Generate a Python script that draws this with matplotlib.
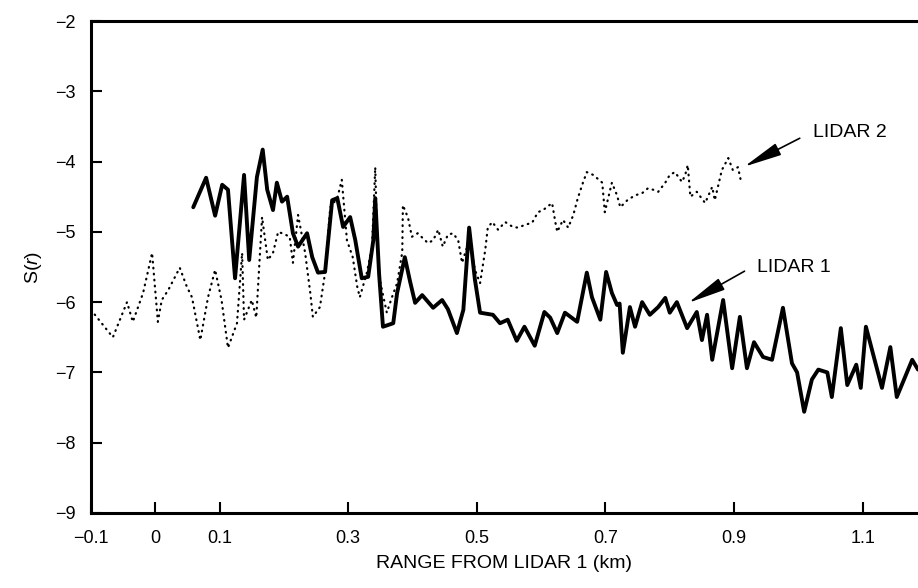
import matplotlib
matplotlib.use("Agg")
import matplotlib.pyplot as plt

# LIDAR 1 (solid curve), range in km and S(r)
lidar1_x = [0.059, 0.079, 0.093, 0.104, 0.113, 0.124, 0.138, 0.146, 0.158, 0.167,
            0.174, 0.183, 0.189, 0.197, 0.205, 0.214, 0.222, 0.236, 0.244, 0.253,
            0.264, 0.275, 0.283, 0.292, 0.303, 0.311, 0.321, 0.331, 0.339, 0.342,
            0.348, 0.354, 0.370, 0.376, 0.388, 0.396, 0.404, 0.415, 0.432, 0.446,
            0.455, 0.469, 0.479, 0.488, 0.497, 0.505, 0.525, 0.536, 0.548, 0.562,
            0.574, 0.590, 0.605, 0.614, 0.625, 0.637, 0.656, 0.671, 0.679, 0.692,
            0.701, 0.710, 0.718, 0.722, 0.727, 0.738, 0.746, 0.757, 0.769, 0.782,
            0.793, 0.800, 0.811, 0.827, 0.842, 0.850, 0.858, 0.866, 0.883, 0.897,
            0.909, 0.920, 0.931, 0.945, 0.959, 0.976, 0.990, 0.998, 1.009, 1.021,
            1.031, 1.045, 1.052, 1.066, 1.076, 1.090, 1.097, 1.105, 1.130, 1.143,
            1.153, 1.177, 1.186]
lidar1_s = [-4.65, -4.23, -4.77, -4.33, -4.40, -5.66, -4.19, -5.40, -4.22, -3.83,
            -4.40, -4.69, -4.30, -4.57, -4.50, -5.02, -5.21, -5.02, -5.36, -5.58,
            -5.57, -4.55, -4.52, -4.93, -4.79, -5.12, -5.66, -5.64, -5.12, -4.52,
            -5.60, -6.35, -6.30, -5.87, -5.36, -5.70, -6.01, -5.90, -6.08, -5.97,
            -6.10, -6.44, -6.11, -4.94, -5.68, -6.15, -6.18, -6.30, -6.25, -6.55,
            -6.35, -6.62, -6.14, -6.22, -6.44, -6.15, -6.28, -5.58, -5.93, -6.25,
            -5.57, -5.87, -6.04, -6.02, -6.72, -6.07, -6.35, -6.00, -6.18, -6.07,
            -5.94, -6.15, -6.00, -6.37, -6.14, -6.54, -6.18, -6.82, -5.97, -6.94,
            -6.21, -6.94, -6.57, -6.78, -6.82, -6.08, -6.87, -7.00, -7.56, -7.10,
            -6.96, -7.00, -7.35, -6.37, -7.18, -6.89, -7.22, -6.35, -7.22, -6.64,
            -7.35, -6.82, -6.96]

# LIDAR 2 (dotted curve)
lidar2_x = [-0.100, -0.066, -0.044, -0.035, -0.019, -0.005, 0.004, 0.010, 0.020, 0.038,
            0.049, 0.057, 0.070, 0.082, 0.093, 0.103, 0.113, 0.127, 0.135, 0.138,
            0.150, 0.157, 0.166, 0.175, 0.183, 0.191, 0.200, 0.209, 0.214, 0.222,
            0.233, 0.241, 0.245, 0.256, 0.264, 0.272, 0.283, 0.290, 0.298, 0.307,
            0.314, 0.318, 0.329, 0.337, 0.342, 0.345, 0.349, 0.360, 0.368, 0.376,
            0.384, 0.385, 0.393, 0.399, 0.408, 0.424, 0.432, 0.440, 0.447, 0.455,
            0.463, 0.471, 0.477, 0.485, 0.489, 0.497, 0.505, 0.513, 0.517, 0.524,
            0.533, 0.544, 0.556, 0.564, 0.575, 0.586, 0.595, 0.603, 0.617, 0.622,
            0.625, 0.634, 0.642, 0.650, 0.657, 0.665, 0.671, 0.681, 0.695, 0.699,
            0.710, 0.718, 0.723, 0.734, 0.746, 0.757, 0.766, 0.774, 0.782, 0.793,
            0.800, 0.808, 0.819, 0.824, 0.828, 0.832, 0.842, 0.855, 0.866, 0.870,
            0.881, 0.891, 0.898, 0.906, 0.911]
lidar2_s = [-6.11, -6.50, -6.00, -6.28, -5.87, -5.30, -6.28, -5.97, -5.83, -5.51,
            -5.78, -5.93, -6.54, -5.93, -5.54, -5.97, -6.65, -6.30, -5.30, -6.25,
            -5.97, -6.22, -4.79, -5.40, -5.30, -5.00, -5.03, -5.07, -5.44, -4.76,
            -5.30, -5.87, -6.21, -6.07, -5.58, -4.65, -4.52, -4.26, -5.12, -5.36,
            -5.78, -5.93, -5.58, -5.21, -4.08, -5.12, -5.68, -6.15, -5.93, -5.73,
            -5.29, -4.62, -4.80, -5.07, -5.02, -5.16, -5.12, -4.97, -5.21, -5.04,
            -5.02, -5.12, -5.44, -5.21, -5.12, -5.54, -5.73, -5.26, -4.94, -4.86,
            -4.97, -4.86, -4.93, -4.94, -4.90, -4.87, -4.72, -4.69, -4.59, -4.86,
            -5.00, -4.83, -4.94, -4.76, -4.52, -4.30, -4.15, -4.19, -4.30, -4.72,
            -4.30, -4.48, -4.65, -4.55, -4.48, -4.45, -4.38, -4.40, -4.43, -4.30,
            -4.19, -4.15, -4.29, -4.19, -4.05, -4.50, -4.43, -4.59, -4.36, -4.55,
            -4.12, -3.95, -4.12, -4.08, -4.29]

xticks = [-0.1, 0, 0.1, 0.3, 0.5, 0.7, 0.9, 1.1]
xtick_labels = ["\u22120.1", "0", "0.1", "0.3", "0.5", "0.7", "0.9", "1.1"]
yticks = [-9, -8, -7, -6, -5, -4, -3, -2]

plt.rcParams['font.family'] = ['Liberation Sans', 'DejaVu Sans']
plt.rcParams['mathtext.fontset'] = 'custom'
plt.rcParams['mathtext.rm'] = 'Liberation Sans'
plt.rcParams['mathtext.it'] = 'Liberation Sans:italic'

fig = plt.figure(figsize=(9.18, 5.88), dpi=100)
ax = fig.add_axes([91 / 918, 1 - 513 / 588, 1 - 91 / 918, (513 - 21) / 588])

ax.plot(lidar2_x, lidar2_s, color='black', lw=1.6, linestyle=(0, (0.3, 2.4)),
        dash_capstyle='round')
ax.plot(lidar1_x, lidar1_s, color='black', lw=2.8, solid_joinstyle='round',
        solid_capstyle='round')

ax.set_xlim(-0.1, 1.186)
ax.set_ylim(-9, -2)
ax.set_xticks(xticks)
ax.set_xticklabels(xtick_labels)
ax.set_yticks(yticks)

for side in ['left', 'bottom', 'top']:
    ax.spines[side].set_linewidth(2.2)
ax.spines['right'].set_visible(False)

ax.tick_params(axis='both', direction='in', length=8, width=1.5, labelsize=13)
ax.tick_params(axis='y', pad=11)
ax.tick_params(axis='x', pad=12)

ax.set_xlabel("RANGE FROM LIDAR 1 (km)", fontsize=14, labelpad=6)
ax.set_ylabel("S($\\mathit{r}$)", fontsize=14, labelpad=8)

# labels with arrows
arrow_style = dict(arrowstyle='-|>,head_length=1.3,head_width=0.22',
                   color='black', lw=1.2, mutation_scale=18)
ax.text(1.023, -3.59, "LIDAR 2", fontsize=14, va='center', ha='left')
ax.annotate('', xy=(0.912, -4.09), xytext=(1.006, -3.65), arrowprops=arrow_style)
ax.text(0.936, -5.50, "LIDAR 1", fontsize=14, va='center', ha='left')
ax.annotate('', xy=(0.825, -6.03), xytext=(0.920, -5.54), arrowprops=arrow_style)

plt.savefig('out.png', dpi=100)
